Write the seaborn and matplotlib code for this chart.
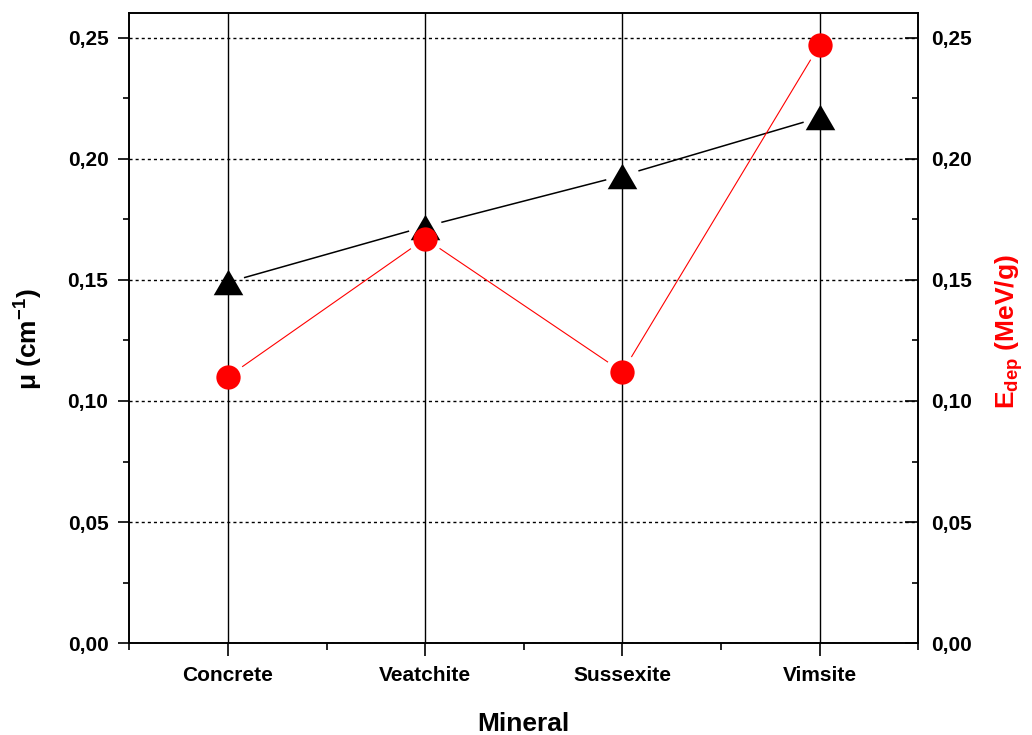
import numpy as np
import matplotlib
matplotlib.use("Agg")
import matplotlib.pyplot as plt
from matplotlib.path import Path
from matplotlib.ticker import MultipleLocator, FixedLocator, FuncFormatter
import seaborn as sns

# Data
minerals = ["Concrete", "Veatchite", "Sussexite", "Vimsite"]
mu_values = [0.149, 0.172, 0.193, 0.217]      # attenuation coefficient (cm^-1)
edep_values = [0.110, 0.167, 0.112, 0.247]    # deposited energy (MeV/g)

sns.set_theme(style="ticks")
plt.rcParams.update({
    "font.family": ["Liberation Sans", "DejaVu Sans"],
    "font.weight": "bold",
    "axes.labelweight": "bold",
    "axes.labelcolor": "black",
    "mathtext.fontset": "custom",
    "mathtext.rm": "Liberation Sans:bold",
    "mathtext.it": "Liberation Sans:italic:bold",
    "mathtext.bf": "Liberation Sans:bold",
    "mathtext.default": "regular",
    "axes.edgecolor": "black",
    "axes.linewidth": 1.2,
    "xtick.color": "black",
    "ytick.color": "black",
    "xtick.labelcolor": "black",
    "ytick.labelcolor": "black",
    "text.color": "black",
})

xpos = np.arange(len(minerals))

fig = plt.figure(figsize=(10.32, 7.35), dpi=100)
rect = [0.1253, 0.1248, 0.7645, 0.8571]
ax = fig.add_axes(rect)
ax2 = ax.twinx()
ax2.set_position(rect)

ax.set_xlim(-0.5, 3.5)
ax.set_ylim(0, 0.26)
ax2.set_ylim(0, 0.26)

# Grid: solid verticals at categories, dotted horizontals at major y ticks
ax.set_axisbelow(True)
ax.xaxis.grid(True, color="black", lw=1.0, ls="-")
ax.yaxis.grid(True, color="black", lw=1.0, ls=(0, (2.2, 2.2)))

# Ticks
ax.set_xticks(xpos)
ax.set_xticklabels(minerals)
ax.xaxis.set_minor_locator(FixedLocator([-0.5, 0.5, 1.5, 2.5, 3.5]))
ax.yaxis.set_major_locator(MultipleLocator(0.05))
ax.yaxis.set_minor_locator(MultipleLocator(0.025))
ax2.yaxis.set_major_locator(MultipleLocator(0.05))
ax2.yaxis.set_minor_locator(MultipleLocator(0.025))

comma_fmt = FuncFormatter(lambda v, p: f"{v:.2f}".replace(".", ","))
ax.yaxis.set_major_formatter(comma_fmt)
ax2.yaxis.set_major_formatter(comma_fmt)

ax.tick_params(axis="x", which="major", direction="out", length=9.5, width=1.2,
               pad=7, labelsize=15, top=False)
ax.tick_params(axis="x", which="minor", direction="out", length=5, width=1.2, top=False)
ax.tick_params(axis="y", which="major", direction="out", length=8, width=1.2,
               pad=7, labelsize=15, right=False)
ax.tick_params(axis="y", which="minor", direction="out", length=4.5, width=1.2, right=False)
ax2.tick_params(axis="y", which="major", direction="in", length=9.5, width=1.2,
                pad=9.5, labelsize=15, left=False)
ax2.tick_params(axis="y", which="minor", direction="in", length=4.5, width=1.2, left=False)
ax2.grid(False)

for a in (ax, ax2):
    for lbl in a.get_xticklabels() + a.get_yticklabels():
        lbl.set_fontweight("bold")


def gapped_line(axis, xs, ys, color, lw, gap_pt):
    """Connect successive points, leaving a gap around each symbol."""
    gap_px = gap_pt * fig.dpi / 72.0
    pts = axis.transData.transform(np.column_stack([xs, ys]))
    inv = axis.transData.inverted()
    for p, q in zip(pts[:-1], pts[1:]):
        d = q - p
        u = d / np.hypot(*d)
        seg = inv.transform(np.vstack([p + u * gap_px, q - u * gap_px]))
        axis.plot(seg[:, 0], seg[:, 1], color=color, lw=lw,
                  solid_capstyle="butt", zorder=2)


gapped_line(ax, xpos, mu_values, "black", 1.1, 12)
gapped_line(ax2, xpos, edep_values, "#ff0000", 0.8, 12.5)

triangle = Path([(-1.16, -1.0), (1.16, -1.0), (0.0, 1.0), (-1.16, -1.0)],
                [Path.MOVETO, Path.LINETO, Path.LINETO, Path.CLOSEPOLY])
sns.scatterplot(x=xpos, y=mu_values, ax=ax, marker=triangle, s=21.3 ** 2,
                color="black", linewidth=0, zorder=3)
sns.scatterplot(x=xpos, y=edep_values, ax=ax2, marker="o", s=17.5 ** 2,
                color="#ff0000", linewidth=0, zorder=3)

ax.set_xlim(-0.5, 3.5)
ax.set_ylim(0, 0.26)
ax2.set_ylim(0, 0.26)

# Axis titles
ax.set_xlabel("Mineral", fontsize=19, fontweight="bold", color="black")
ax.set_ylabel("μ (cm$^{-1}$)", fontsize=19, fontweight="bold", color="black")
ax2.set_ylabel("E$_{dep}$ (MeV/g)", fontsize=19, fontweight="bold", color="#ff0000")
ax.xaxis.set_label_coords(0.5, -0.109)
ax.yaxis.set_label_coords(-0.107, 0.483)
ax2.yaxis.set_label_coords(1.0947, 0.494)

fig.savefig("out.png", dpi=100)
